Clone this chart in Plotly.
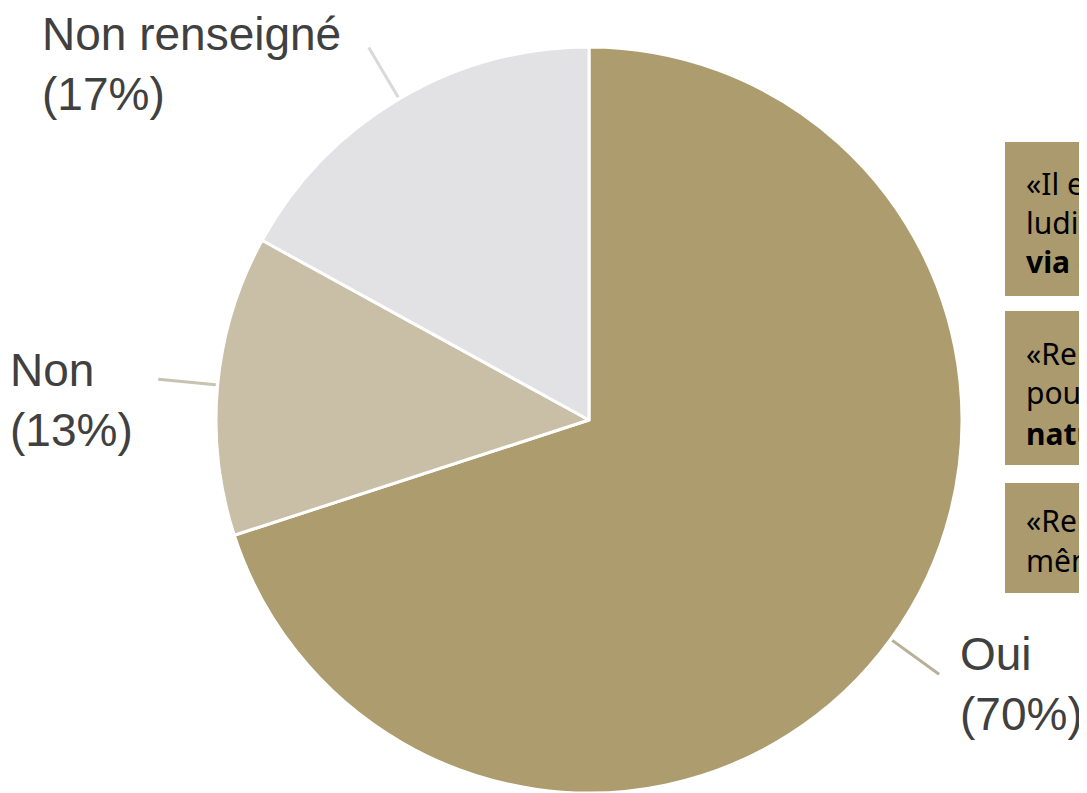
import math
import plotly.graph_objects as go

# ---- data ----
labels = ["Oui", "Non", "Non renseigné"]
values = [70, 13, 17]
pct_text = ["(70%)", "(13%)", "(17%)"]
slice_colors = ["#AD9C6E", "#C9BFA6", "#E2E1E3"]
leader_colors = ["#B9B09A", "#C8C2B2", "#D9D9DB"]

quote_boxes = [
    ["«Il est essentiel de rendre l'apprentissage", "ludifié et attractif pour les enfants,", "via des activités concrètes»"],
    ["«Rendre les enfants acteurs, notamment", "pour les sensibiliser au respect de la", "nature et de l'environnement»"],
    ["«Rendre les enfants autonomes et acteurs", "même en dehors de l'école»"],
]
bold_last = [True, True, False]

# ---- layout constants (pixels in the photographed page) ----
W, H = 1087, 793
OFF = 8  # page body margin
CX, CY, R = 589, 420, 373

def px_x(x):
    return (x - OFF) / W

def px_y(y):
    return 1 - (y - OFF) / H

fig = go.Figure(go.Pie(
    labels=labels,
    values=values,
    sort=False,
    direction="clockwise",
    rotation=0,
    marker=dict(colors=slice_colors, line=dict(color="#FFFFFF", width=3)),
    textinfo="none",
    hoverinfo="label+percent",
    showlegend=False,
    domain=dict(x=[px_x(CX - R), px_x(CX + R)], y=[px_y(CY + R), px_y(CY - R)]),
))

shapes = []
annotations = []

# leader lines at mid-angles of slices, computed from the data
total = sum(values)
cum = 0
for i, v in enumerate(values):
    mid = (cum + v / 2) / total * 2 * math.pi
    cum += v
    dx, dy = math.sin(mid), -math.cos(mid)
    x0, y0 = CX + dx * R * 1.005, CY + dy * R * 1.005
    x1, y1 = CX + dx * R * 1.16, CY + dy * R * 1.16
    shapes.append(dict(type="line", xref="paper", yref="paper",
                       x0=px_x(x0), y0=px_y(y0), x1=px_x(x1), y1=px_y(y1),
                       line=dict(color=leader_colors[i], width=3)))

# outside labels
label_pos = {"Oui": (958, 684), "Non": (8, 400), "Non renseigné": (40, 64)}
for lab, pt in zip(labels, pct_text):
    x, y = label_pos[lab]
    annotations.append(dict(
        xref="paper", yref="paper", x=px_x(x), y=px_y(y),
        xanchor="left", yanchor="middle", align="left", showarrow=False,
        text=f"{lab}<br>{pt}",
        font=dict(family="Liberation Sans, Arial", size=46, color="#404040"),
    ))

# quote boxes on the right (cut by the edge)
box_rects = [(142, 296), (311, 465), (483, 593)]
line_y = [[183, 222, 262], [353, 393, 433], [520, 560]]
for b, lines in enumerate(quote_boxes):
    y0, y1 = box_rects[b]
    shapes.append(dict(type="rect", xref="paper", yref="paper",
                       x0=px_x(1005), x1=px_x(1500), y0=px_y(y1), y1=px_y(y0),
                       fillcolor="#AB9A6E", line=dict(width=0), layer="above"))
    for j, t in enumerate(lines):
        txt = t
        if bold_last[b] and j == len(lines) - 1:
            txt = f"<b>{t}</b>"
        annotations.append(dict(
            xref="paper", yref="paper", x=px_x(1024), y=px_y(line_y[b][j]),
            xanchor="left", yanchor="middle", showarrow=False, text=txt,
            font=dict(family="Noto Sans, Open Sans, sans-serif", size=30, color="#000000"),
        ))

fig.update_layout(
    width=W, height=H,
    margin=dict(l=0, r=0, t=0, b=0),
    paper_bgcolor="#FFFFFF", plot_bgcolor="#FFFFFF",
    shapes=shapes, annotations=annotations,
)

fig.write_html("out.html")
